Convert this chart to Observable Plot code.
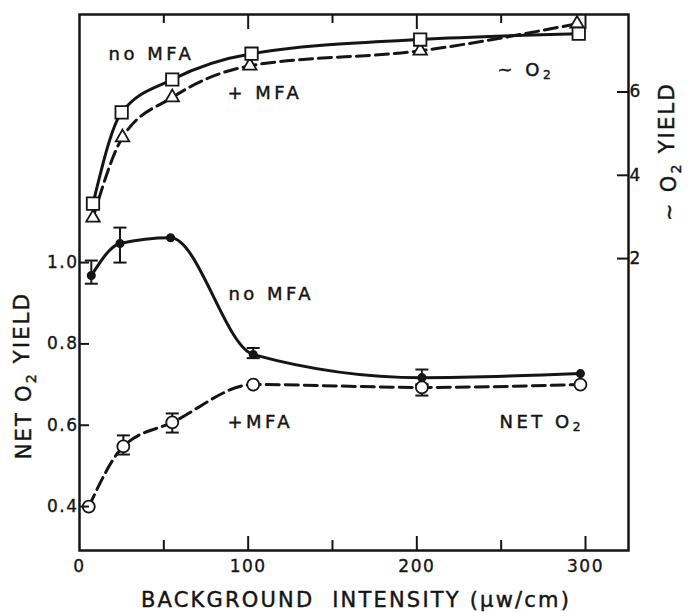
<!DOCTYPE html>
<html><head><meta charset="utf-8">
<script src="https://cdn.jsdelivr.net/npm/d3@7"></script>
<script src="https://cdn.jsdelivr.net/npm/@observablehq/plot@0.6"></script>
<style>body{margin:0;background:#fff} svg{display:block}</style>
</head><body><div id="chart"></div>
<script>
// ~O2 yield (right axis) — squares: no MFA, triangles: + MFA
const xSquares   = [8, 25, 55, 102, 202, 296];
const o2NoMFA    = [3.32, 5.51, 6.30, 6.92, 7.26, 7.40];
const xTriangles = [8, 25.5, 55, 101, 202, 295];
const o2MFA      = [2.98, 4.91, 5.87, 6.63, 6.99, 7.64];
// Net O2 yield (left axis) — filled: no MFA, open: + MFA
const xFilled    = [7, 24, 54, 103, 203, 297];
const netNoMFA   = [0.968, 1.047, 1.061, 0.774, 0.717, 0.727];
const netNoMFAErr= [[0.948, 1.005], [1.0, 1.086], null, [0.765, 0.79], [0.70, 0.737], null];
const xOpen      = [5.5, 26, 55, 103, 203, 297];
const netMFA     = [0.40, 0.548, 0.607, 0.700, 0.693, 0.700];
const netMFAErr  = [null, [0.528, 0.575], [0.582, 0.629], null, [0.673, 0.70], null];
// tick labels
const xTicksMajor = [100, 200, 300];
const xTicksMinor = [50, 150, 250];
const xTickLabels = [0, 100, 200, 300];
const leftTicks  = [0.4, 0.6, 0.8, 1.0];
const rightTicks = [2, 4, 6];
// annotations (data coordinates)
const annotations = [
  {text: "no MFA", x: 17.2, y: 1.499},
  {text: "+ MFA", x: 87.7, y: 1.403},
  {text: "~ O₂", x: 247.8, y: 1.460},
  {text: "no MFA", x: 88.3, y: 0.909},
  {text: "+MFA", x: 87.7, y: 0.594},
  {text: "NET O₂", x: 249, y: 0.594}
];
const xTitle = "BACKGROUND  INTENSITY (\u03BCw/cm)";
const leftTitle = "NET O₂ YIELD";
const rightTitle = "~ O₂ YIELD";

// right axis (~O2 yield) mapped onto the left (net O2) scale
const toLeft = v => 0.805 + 0.1024 * v;
const fromLeft = u => (u - 0.805) / 0.1024;

const squares = xSquares.map((x, i) => ({x, y: toLeft(o2NoMFA[i])}));
const triangles = xTriangles.map((x, i) => ({x, y: toLeft(o2MFA[i])}));
const filled = xFilled.map((x, i) => ({x, y: netNoMFA[i]}));
const open = xOpen.map((x, i) => ({x, y: netMFA[i]}));
const errs = [
  ...xFilled.map((x, i) => netNoMFAErr[i] && {x, lo: netNoMFAErr[i][0], hi: netNoMFAErr[i][1]}),
  ...xOpen.map((x, i) => netMFAErr[i] && {x, lo: netMFAErr[i][0], hi: netMFAErr[i][1]})
].filter(Boolean);
const caps = errs.flatMap(d => [{x: d.x, y: d.lo}, {x: d.x, y: d.hi}]);

const capSymbol = {draw(ctx, size) { const w = Math.sqrt(size / Math.PI); ctx.moveTo(-w, 0); ctx.lineTo(w, 0); }};
const ink = "#151515";

const chart = Plot.plot({
  width: 693, height: 612,
  marginLeft: 79, marginRight: 65, marginTop: 14, marginBottom: 62,
  style: {fontFamily: "DejaVu Sans", fontSize: "16px", color: ink, background: "#fff"},
  x: {domain: [0, 325.5], axis: null},
  y: {domain: [0.292, 1.61], axis: null},
  marks: [
    Plot.line(squares, {x: "x", y: "y", curve: "monotone-x", stroke: ink, strokeWidth: 3}),
    Plot.line(triangles, {x: "x", y: "y", curve: "monotone-x", stroke: ink, strokeWidth: 3, strokeDasharray: "13,6"}),
    Plot.line(filled, {x: "x", y: "y", curve: "monotone-x", stroke: ink, strokeWidth: 3}),
    Plot.line(open, {x: "x", y: "y", curve: "monotone-x", stroke: ink, strokeWidth: 3, strokeDasharray: "13,6"}),
    Plot.ruleX(errs, {x: "x", y1: "lo", y2: "hi", stroke: ink, strokeWidth: 2}),
    Plot.dot(caps, {x: "x", y: "y", symbol: capSymbol, r: 6.5, stroke: ink, strokeWidth: 2}),
    Plot.dot(triangles, {x: "x", y: "y", symbol: "triangle", r: 5, fill: "white", stroke: ink, strokeWidth: 1.8}),
    Plot.dot(squares, {x: "x", y: "y", symbol: "square", r: 7, fill: "white", stroke: ink, strokeWidth: 1.8}),
    Plot.dot(filled, {x: "x", y: "y", r: 3.8, fill: ink, stroke: ink}),
    Plot.dot(open, {x: "x", y: "y", r: 6, fill: "white", stroke: ink, strokeWidth: 1.8}),
    Plot.text(annotations, {x: "x", y: "y", text: "text", textAnchor: "start", lineAnchor: "bottom", fontSize: 18, fill: ink}),
    Plot.frame({stroke: ink, strokeWidth: 2.5}),
    Plot.axisX({anchor: "bottom", ticks: xTicksMajor, tickSize: -14, fill: "none", stroke: ink, strokeWidth: 2, label: null}),
    Plot.axisX({anchor: "bottom", ticks: xTicksMinor, tickSize: -10, fill: "none", stroke: ink, strokeWidth: 2, label: null}),
    Plot.axisX({anchor: "top", ticks: xTicksMajor, tickSize: -14, fill: "none", stroke: ink, strokeWidth: 2, label: null}),
    Plot.axisX({anchor: "top", ticks: xTicksMinor, tickSize: -8, fill: "none", stroke: ink, strokeWidth: 2, label: null}),
    Plot.axisX({anchor: "bottom", ticks: xTickLabels, tickSize: 0, tickPadding: 9, fontSize: 17, fill: ink, label: null}),
    Plot.axisY({anchor: "left", ticks: leftTicks, tickSize: -10, fill: "none", stroke: ink, strokeWidth: 2, label: null}),
    Plot.axisY({anchor: "left", ticks: leftTicks, tickSize: 0, tickPadding: 1, tickFormat: d3.format(".1f"), fontSize: 17, fill: ink, label: null}),
    Plot.axisY({anchor: "right", ticks: rightTicks.map(toLeft), tickSize: -12, fill: "none", stroke: ink, strokeWidth: 2, label: null}),
    Plot.axisY({anchor: "right", ticks: rightTicks.map(toLeft), tickSize: 0, tickPadding: 1, tickFormat: d => String(Math.round(fromLeft(d))), fontSize: 17, fill: ink, label: null}),
    Plot.text([{t: xTitle}], {text: "t", frameAnchor: "bottom", dx: 2, dy: 56, lineAnchor: "bottom", fontSize: 21, fill: ink}),
    Plot.text([{t: leftTitle, y: 0.722}], {text: "t", y: "y", frameAnchor: "left", textAnchor: "middle", dx: -55, rotate: -90, fontSize: 21, fill: ink}),
    Plot.text([{t: rightTitle, y: 1.273}], {text: "t", y: "y", frameAnchor: "right", textAnchor: "middle", dx: 41, rotate: -90, fontSize: 21, fill: ink})
  ]
});
const svg = d3.select(chart);
const textGroups = svg.selectAll('g[aria-label="text"]').nodes();
textGroups.forEach((g, i) => {
  d3.select(g).selectAll("text").style("letter-spacing", i === 0 ? "3.5px" : "2.2px")
    .style("stroke", ink).style("stroke-width", "0.45px");
});
svg.selectAll('g[aria-label$="tick label"] text').style("letter-spacing", "1.5px")
  .style("stroke", ink).style("stroke-width", "0.35px");
// real subscripts for O2
svg.selectAll("text").each(function() {
  const el = this;
  if (el.childElementCount > 0 || !el.textContent.includes("₂")) return;
  const [before, after] = el.textContent.split("₂");
  el.textContent = "";
  const sel = d3.select(el);
  sel.append("tspan").text(before);
  sel.append("tspan").attr("dy", "0.3em").attr("font-size", "0.68em").text("2");
  if (after) sel.append("tspan").attr("dy", "-0.3em").text(after);
});
document.getElementById("chart").appendChild(chart);
</script>
</body></html>
